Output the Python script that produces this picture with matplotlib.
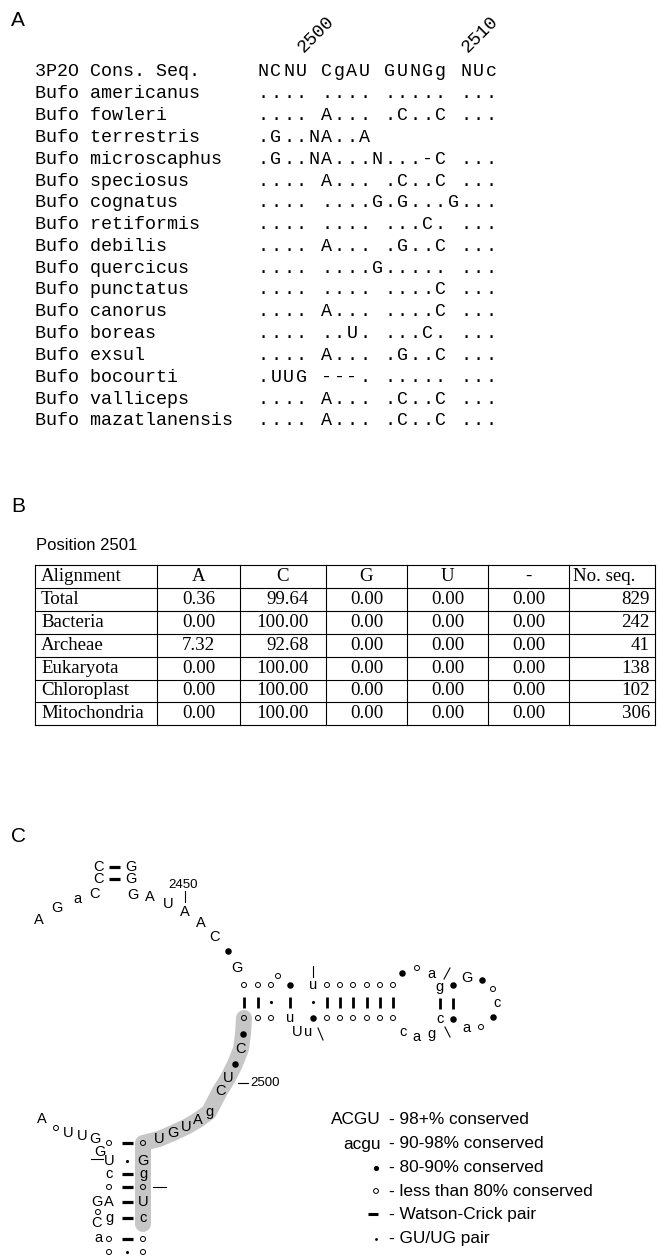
import matplotlib
matplotlib.use("Agg")
import matplotlib.pyplot as plt

MONO = "Liberation Mono"
SANS = "Liberation Sans"
SERIF = "Liberation Serif"

# ---------------- A: alignment ----------------
cons_name = "3P2O Cons. Seq."
cons_seq = "NCNU CgAU GUNGg NUc"
species = [
    "Bufo americanus", "Bufo fowleri", "Bufo terrestris", "Bufo microscaphus",
    "Bufo speciosus", "Bufo cognatus", "Bufo retiformis", "Bufo debilis",
    "Bufo quercicus", "Bufo punctatus", "Bufo canorus", "Bufo boreas",
    "Bufo exsul", "Bufo bocourti", "Bufo valliceps", "Bufo mazatlanensis",
]
seqs = [
    ".... .... ..... ...",
    ".... A... .C..C ...",
    ".G..NA..A",
    ".G..NA...N...-C ...",
    ".... A... .C..C ...",
    ".... ....G.G...G...",
    ".... .... ...C. ...",
    ".... A... .G..C ...",
    ".... ....G..... ...",
    ".... .... ....C ...",
    ".... A... ....C ...",
    ".... ..U. ...C. ...",
    ".... A... .G..C ...",
    ".UUG ---. ..... ...",
    ".... A... .C..C ...",
    ".... A... .C..C ...",
]
ruler_labels = ["2500", "2510"]
ruler_cols = [3, 16]

# ---------------- B: position 2501 ----------------
tbl_head = ["Alignment", "A", "C", "G", "U", "-", "No. seq."]
groups = ["Total", "Bacteria", "Archeae", "Eukaryota", "Chloroplast", "Mitochondria"]
pct_A = [0.36, 0.00, 7.32, 0.00, 0.00, 0.00]
pct_C = [99.64, 100.00, 92.68, 100.00, 100.00, 100.00]
pct_G = [0.00, 0.00, 0.00, 0.00, 0.00, 0.00]
pct_U = [0.00, 0.00, 0.00, 0.00, 0.00, 0.00]
pct_gap = [0.00, 0.00, 0.00, 0.00, 0.00, 0.00]
n_seq = [829, 242, 41, 138, 102, 306]

# ---------------- C: secondary structure ----------------
# 'o' <80% conserved, '*' 80-90%, letters as in the key; pairs '-' WC, '.' GU
arm5 = "AGaCCC"
arm5_xy = [(39, 920), (57, 908), (77, 899), (94, 894), (99, 879), (99, 867)]
arm3 = "GGGAUAAC*G"
arm3_xy = [(131, 867), (131, 879), (133, 895), (150, 897), (168, 904),
           (185, 912), (201, 923), (215, 937), (228, 951), (237, 968)]
arm_pairs = "--"
arm_pair_xy = [(114, 867), (114, 879)]

helix_x = [244, 258, 271, 290, 313, 327, 340, 353, 367, 380, 393]
helix_top = "ooo*uoooooo"
helix_bot = "ooou*oooooo"
helix_pairs = "--.-.------"
helix_y = (985, 1002, 1018)

loop_nt = "*oa" + "g*" + "G*oc*oa" + "*c" + "cag" + "Uu" + "o"
loop_xy = [(402, 973), (417, 968), (431, 974),
           (439, 987), (453, 985),
           (467, 978), (482, 980), (493, 989), (497, 1003), (493, 1017), (481, 1027), (466, 1028),
           (453, 1019), (440, 1019),
           (403, 1032), (416, 1037), (431, 1034),
           (297, 1032), (308, 1032),
           (278, 976)]
loop_pairs = "--"
loop_pair_xy = [(440, 1003), (453, 1003)]

shade = "*C*UCgAUGU"
shade_xy = [(243, 1034), (241, 1049), (235, 1064), (228, 1078), (220, 1091),
            (209, 1112), (198, 1120), (186, 1127), (173, 1133), (159, 1139)]

stem_y = [1143, 1161, 1174, 1187, 1202, 1218, 1239, 1252]
stem_left = "oUcoAgoo"
stem_right = "oGgoUcoo"
stem_pairs = "-.-----."
stem_x = (109, 127, 143)

tail = "AoUUG" + "GGoCa"
tail_xy = [(42, 1119), (56, 1128), (68, 1133), (82, 1136), (95, 1139),
           (100, 1152), (97, 1202), (98, 1212), (97, 1223), (98, 1238)]

legend_sym = ["ACGU", "acgu", "*", "o", "-", "."]
legend_txt = ["- 98+% conserved", "- 90-98% conserved", "- 80-90% conserved",
              "- less than 80% conserved", "- Watson-Crick pair", "- GU/UG pair"]


fig = plt.figure(figsize=(6.58, 12.58), dpi=100)
ax = fig.add_axes([0, 0, 1, 1])
ax.set_xlim(0, 658)
ax.set_ylim(1258, 0)
ax.axis("off")

for lab, y in [("A", 21), ("B", 506), ("C", 836)]:
    ax.text(11, y, lab, family=SANS, fontsize=15, ha="left", va="center")

# alignment block
row0, dy = 72, 21.8
seq_x, pitch = 257, 12.65


def put_seq(s, y):
    for i, ch in enumerate(s):
        if ch != " ":
            ax.text(seq_x + i * pitch + pitch / 2, y, ch, family=MONO,
                    fontsize=13.2, ha="center", va="center")


ax.text(35, row0, cons_name, family=MONO, fontsize=13.2, ha="left", va="center")
put_seq(cons_seq, row0)
for k, (name, s) in enumerate(zip(species, seqs)):
    y = row0 + dy * (k + 1)
    ax.text(35, y, name, family=MONO, fontsize=13.2, ha="left", va="center")
    put_seq(s, y)

for lab, col in zip(ruler_labels, ruler_cols):
    ax.text(seq_x + col * pitch + pitch / 2 + 2, 53, lab, family=MONO, fontsize=13.2,
            rotation=45, rotation_mode="anchor", ha="left", va="baseline")

# table
ax.text(36, 546, "Position 2501", family=SANS, fontsize=12, ha="left", va="center")
col_x = [35, 157, 240, 326, 407, 488, 569, 655]
top, rh = 565, 22.9
nrows = len(groups) + 1
for i in range(nrows + 1):
    ax.plot([col_x[0], col_x[-1]], [top + i * rh] * 2, color="black", lw=0.8)
for x in col_x:
    ax.plot([x, x], [top, top + nrows * rh], color="black", lw=0.8)

tfs = 13.6
yc = top + rh / 2
ax.text(col_x[0] + 6, yc, tbl_head[0], family=SERIF, fontsize=tfs, ha="left", va="center")
for j in range(1, 6):
    ax.text((col_x[j] + col_x[j + 1]) / 2, yc, tbl_head[j], family=SERIF, fontsize=tfs,
            ha="center", va="center")
ax.text(col_x[6] + 4, yc, tbl_head[6], family=SERIF, fontsize=tfs, ha="left", va="center")

for i, g in enumerate(groups):
    y = top + (i + 1) * rh + rh / 2
    ax.text(col_x[0] + 6, y, g, family=SERIF, fontsize=tfs, ha="left", va="center")
    ax.text((col_x[1] + col_x[2]) / 2, y, f"{pct_A[i]:.2f}", family=SERIF, fontsize=tfs,
            ha="center", va="center")
    ax.text(col_x[3] - 17, y, f"{pct_C[i]:.2f}", family=SERIF, fontsize=tfs,
            ha="right", va="center")
    for j, vals in zip([3, 4, 5], [pct_G, pct_U, pct_gap]):
        ax.text((col_x[j] + col_x[j + 1]) / 2, y, f"{vals[i]:.2f}", family=SERIF,
                fontsize=tfs, ha="center", va="center")
    ax.text(col_x[7] - 5, y, str(n_seq[i]), family=SERIF, fontsize=tfs, ha="right", va="center")


# structure drawing helpers
def base(sym, x, y, fs=10.5):
    if sym == "o":
        ax.scatter([x], [y], s=13, facecolor="none", edgecolor="black", linewidth=0.7, zorder=3)
    elif sym == "*":
        ax.scatter([x], [y], s=22, color="black", linewidth=0, zorder=3)
    else:
        ax.text(x, y, sym, family=SANS, fontsize=fs, ha="center", va="center", zorder=3)


def bond(kind, x, y, vertical):
    if kind == "-":
        if vertical:
            ax.plot([x, x], [y - 5.5, y + 5.5], color="black", lw=2.0, solid_capstyle="butt")
        else:
            ax.plot([x - 5.5, x + 5.5], [y, y], color="black", lw=2.3, solid_capstyle="butt")
    else:
        ax.scatter([x], [y], s=5, color="black", linewidth=0, zorder=3)


def tick(x0, y0, x1, y1):
    ax.plot([x0, x1], [y0, y1], color="black", lw=0.8)


# grey band along the 2500 strand
band = [(helix_x[0], helix_y[2])] + shade_xy + [(stem_x[2], y) for y in stem_y[:6]]
ax.plot([p[0] for p in band], [p[1] + (6 if k == len(band) - 1 else 0) for k, p in enumerate(band)],
        color="#c6c6c6", lw=11.5, solid_capstyle="round", solid_joinstyle="round", zorder=1)

for s, (x, y) in zip(arm5, arm5_xy):
    base(s, x, y)
for s, (x, y) in zip(arm3, arm3_xy):
    base(s, x, y)
for s, (x, y) in zip(arm_pairs, arm_pair_xy):
    bond(s, x, y, vertical=False)

for x, a, b, p in zip(helix_x, helix_top, helix_bot, helix_pairs):
    base(a, x, helix_y[0])
    base(b, x, helix_y[2])
    bond(p, x, helix_y[1], vertical=True)
for s, (x, y) in zip(loop_nt, loop_xy):
    base(s, x, y)
for s, (x, y) in zip(loop_pairs, loop_pair_xy):
    bond(s, x, y, vertical=True)

for s, (x, y) in zip(shade, shade_xy):
    base(s, x, y)

for y, a, b, p in zip(stem_y, stem_left, stem_right, stem_pairs):
    base(a, stem_x[0], y)
    base(b, stem_x[2], y)
    bond(p, stem_x[1], y, vertical=False)
for s, (x, y) in zip(tail, tail_xy):
    base(s, x, y)

# strand breaks and numbering
tick(313, 966, 313, 977)
tick(444, 979, 450, 968)
tick(445, 1027, 450, 1037)
tick(318, 1028, 323, 1040)
tick(91, 1159, 103, 1159)
tick(153, 1187, 166, 1187)
tick(185, 891, 185, 902)
ax.text(183, 885, "2450", family=SANS, fontsize=9.5, ha="center", va="center")
tick(238, 1083, 248, 1083)
ax.text(250, 1083, "2500", family=SANS, fontsize=9.5, ha="left", va="center")

# key
leg_y = [1120, 1144, 1168, 1191, 1214, 1239]
for sym, txt, y in zip(legend_sym, legend_txt, leg_y):
    if sym == "*":
        ax.scatter([376], [y], s=14, color="black", linewidth=0)
    elif sym == "o":
        ax.scatter([376], [y], s=12, facecolor="none", edgecolor="black", linewidth=0.7)
    elif sym == "-":
        ax.plot([368, 378], [y, y], color="black", lw=2.2, solid_capstyle="butt")
    elif sym == ".":
        ax.scatter([376], [y], s=4, color="black", linewidth=0)
    else:
        ax.text(381, y, sym, family=SANS, fontsize=12.4, ha="right", va="center")
    ax.text(389, y, txt, family=SANS, fontsize=12.4, ha="left", va="center")

fig.savefig("out.png", dpi=100)
